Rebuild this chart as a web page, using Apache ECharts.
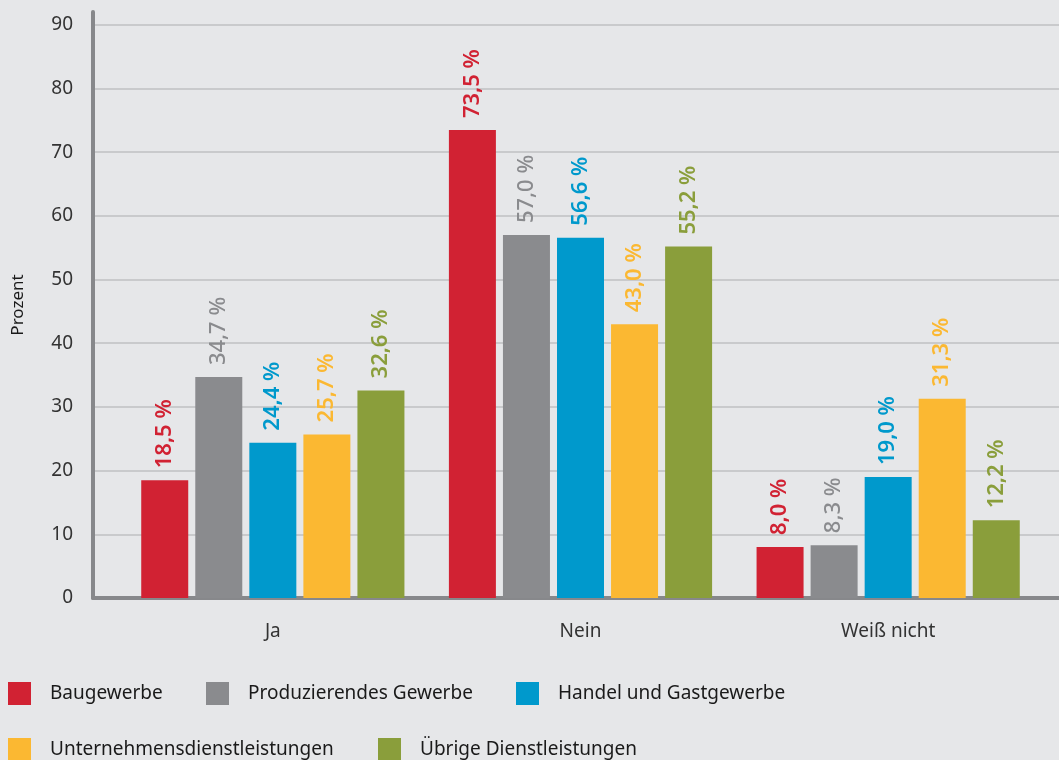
<!DOCTYPE html>
<html>
<head>
    <meta charset="UTF-8">
    <title>Umfrage nach Branchen</title>
    <script src="https://cdn.jsdelivr.net/npm/echarts/dist/echarts.min.js"></script>
    <style>
        body { margin: 0; background: #e6e7e9; }
    </style>
</head>
<body>
    <div id="chart" style="width: 1059px;height:760px;"></div>
    <script type="text/javascript">
        var myChart = echarts.init(document.getElementById('chart'));

        // data
        var categories = ['Ja', 'Nein', 'Weiß nicht'];
        var seriesNames = ['Baugewerbe', 'Produzierendes Gewerbe', 'Handel und Gastgewerbe',
            'Unternehmensdienstleistungen', 'Übrige Dienstleistungen'];
        var baugewerbe = [18.5, 73.5, 8.0];
        var produzierendes = [34.7, 57.0, 8.3];
        var handel = [24.4, 56.6, 19.0];
        var unternehmensDL = [25.7, 43.0, 31.3];
        var uebrigeDL = [32.6, 55.2, 12.2];
        var colors = ['#d12233', '#8a8b8e', '#0099cc', '#fbb832', '#8a9e3b'];

        var allData = [baugewerbe, produzierendes, handel, unternehmensDL, uebrigeDL];
        var font = 'Noto Sans';

        var series = allData.map(function (values, i) {
            return {
                name: seriesNames[i],
                type: 'bar',
                xAxisIndex: 1,
                yAxisIndex: 1,
                data: values,
                barWidth: 47,
                barGap: '15%',
                itemStyle: { color: colors[i] },
                label: {
                    show: true,
                    position: 'top',
                    rotate: 90,
                    align: 'left',
                    verticalAlign: 'middle',
                    distance: 12,
                    color: colors[i],
                    fontFamily: font,
                    // the grey labels are set in a lighter weight
                    fontWeight: i === 1 ? 500 : 600,
                    fontSize: 22,
                    formatter: function (p) {
                        return p.value.toFixed(1).replace('.', ',') + ' %';
                    }
                }
            };
        });

        // one legend per item so they sit where the original has them
        var legendPos = [[3, 677], [201, 677], [511, 677], [3, 733], [373, 733]];
        var legends = seriesNames.map(function (name, i) {
            return {
                data: [name],
                left: legendPos[i][0],
                top: legendPos[i][1],
                icon: 'rect',
                itemWidth: 23,
                itemHeight: 23,
                textStyle: {
                    fontFamily: font,
                    fontSize: 19,
                    color: '#1a1a1a',
                    padding: [0, 0, 0, 14]
                },
                selectedMode: false
            };
        });

        var option = {
            backgroundColor: '#e6e7e9',
            animation: false,
            legend: legends,
            grid: [
                // background frame: axes and grid lines across the full width
                { left: 93, right: 0, top: 12, bottom: 162 },
                // bars
                { left: 119, right: 17, top: 25, bottom: 162 }
            ],
            xAxis: [
                {
                    gridIndex: 0,
                    type: 'value',
                    min: 0,
                    max: 1,
                    axisLine: { show: true, onZero: false, lineStyle: { color: '#87888b', width: 4 } },
                    axisTick: { show: false },
                    axisLabel: { show: false },
                    splitLine: { show: false }
                },
                {
                    gridIndex: 1,
                    type: 'category',
                    data: categories,
                    axisLine: { show: false },
                    axisTick: { show: false },
                    axisLabel: {
                        margin: 24,
                        fontFamily: font,
                        fontSize: 19,
                        color: '#333333'
                    }
                }
            ],
            yAxis: [
                {
                    gridIndex: 0,
                    type: 'value',
                    min: 0,
                    max: 92,
                    interval: 10,
                    name: 'Prozent',
                    nameLocation: 'middle',
                    nameGap: 66,
                    nameTextStyle: { fontFamily: font, fontSize: 17, color: '#1a1a1a' },
                    axisLine: { show: true, lineStyle: { color: '#87888b', width: 4 } },
                    axisTick: { show: false },
                    axisLabel: {
                        margin: 20,
                        fontFamily: font,
                        fontSize: 19,
                        color: '#333333',
                        showMaxLabel: false
                    },
                    splitLine: { show: true, showMaxLine: false, lineStyle: { color: '#c9cacc', width: 2 } }
                },
                {
                    gridIndex: 1,
                    type: 'value',
                    min: 0,
                    max: 90,
                    show: false,
                    splitLine: { show: false }
                }
            ],
            series: series
        };

        myChart.setOption(option);
    </script>
</body>
</html>
